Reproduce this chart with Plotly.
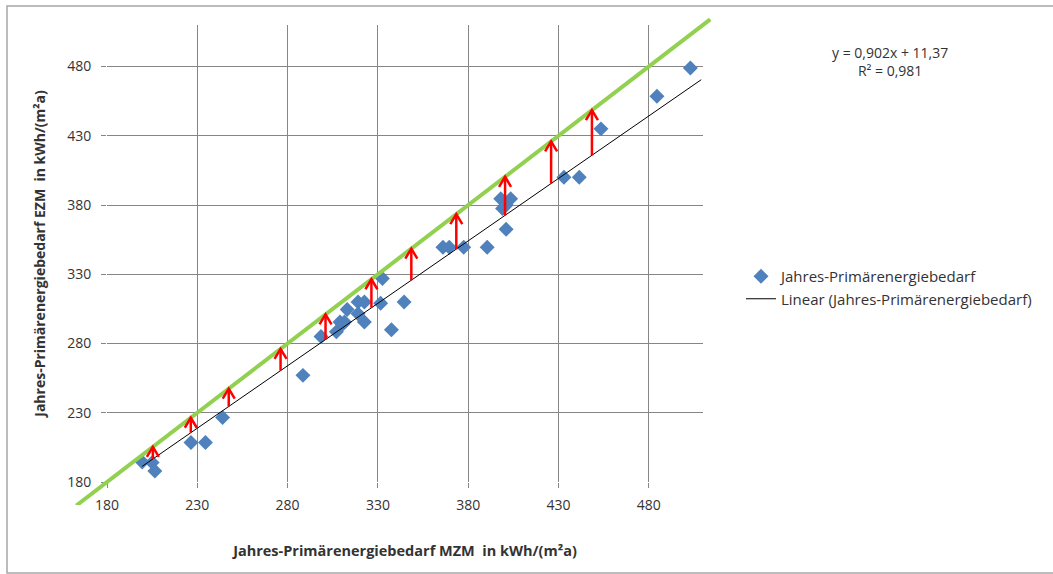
import numpy as np
import plotly.graph_objects as go

# ---------------- data ----------------
x_mzm = [199.5, 205.0, 206.5, 226.5, 234.5, 244.0, 288.5, 298.5, 307.0, 309.0,
         311.5, 310.5, 313.0, 319.0, 322.5, 319.0, 322.5, 331.5, 332.5, 337.5,
         344.5, 366.0, 369.5, 377.5, 390.5, 398.0, 403.5, 399.0, 401.0, 401.0,
         433.0, 441.5, 453.5, 484.5, 503.0]
y_ezm = [194.5, 194.0, 188.0, 208.5, 208.5, 226.5, 257.0, 285.0, 288.5, 295.5,
         295.5, 294.0, 304.5, 310.0, 310.0, 301.5, 295.5, 309.0, 327.0, 290.0,
         310.0, 349.5, 349.5, 349.5, 349.5, 384.5, 384.5, 377.5, 380.0, 362.5,
         400.0, 400.0, 435.0, 458.5, 479.0]
arrow_x = [205.4, 226.4, 247.4, 276.1, 301.0, 326.4, 348.5, 373.4, 400.4, 425.9, 448.5]
SLOPE, INTERCEPT, R2 = 0.902, 11.37, 0.981
tick_vals = [180, 230, 280, 330, 380, 430, 480]
tick_text = ["180", "230", "280", "330", "380", "430", "480"]
X_RANGE = [180, 510]
Y_RANGE = [180, 510]
REF_LINE = [163, 514]   # extent of the y = x reference line

series_name = "Jahres-Primärenergiebedarf"
trend_name = "Linear (Jahres-Primärenergiebedarf)"
x_title = "Jahres-Primärenergiebedarf MZM  in kWh/(m²a)"
y_title = "Jahres-Primärenergiebedarf EZM  in kWh/(m²a)"

# ---------------- layout geometry (pixels) ----------------
W, H = 1053, 574
PLOT = dict(left=107, right=703, top=25, bottom=482)     # main plot area
OUTER = dict(left=74, right=716, top=17, bottom=505)     # area for the overflowing reference line
ow = OUTER["right"] - OUTER["left"]
oh = OUTER["bottom"] - OUTER["top"]
dom_x = [(PLOT["left"] - OUTER["left"]) / ow, (PLOT["right"] - OUTER["left"]) / ow]
dom_y = [(OUTER["bottom"] - PLOT["bottom"]) / oh, (OUTER["bottom"] - PLOT["top"]) / oh]
# extend axis ranges so the second (invisible) axis pair has identical scale
sx = (X_RANGE[1] - X_RANGE[0]) / (dom_x[1] - dom_x[0])
sy = (Y_RANGE[1] - Y_RANGE[0]) / (dom_y[1] - dom_y[0])
x2_range = [X_RANGE[0] - dom_x[0] * sx, X_RANGE[1] + (1 - dom_x[1]) * sx]
y2_range = [Y_RANGE[0] - dom_y[0] * sy, Y_RANGE[1] + (1 - dom_y[1]) * sy]
ppu_x = (PLOT["right"] - PLOT["left"]) / (X_RANGE[1] - X_RANGE[0])   # px per unit
ppu_y = (PLOT["bottom"] - PLOT["top"]) / (Y_RANGE[1] - Y_RANGE[0])


def px_x(p):
    return (p - OUTER["left"]) / ow


def px_y(p):
    return (OUTER["bottom"] - p) / oh


FONT = "Open Sans"
GRID = "#868686"
TXT = "#333333"

fig = go.Figure()

fig.add_trace(go.Scatter(
    x=x_mzm, y=y_ezm, mode="markers", name=series_name,
    marker=dict(symbol="diamond", size=11.5, color="#4F81BD"),
    xaxis="x", yaxis="y"))

tx = np.array([min(x_mzm), X_RANGE[1] - 1])
fig.add_trace(go.Scatter(
    x=tx, y=SLOPE * tx + INTERCEPT, mode="lines", name=trend_name,
    line=dict(color="#000000", width=1), xaxis="x", yaxis="y"))

fig.add_trace(go.Scatter(
    x=REF_LINE, y=REF_LINE, mode="lines", showlegend=False,
    line=dict(color="#92D050", width=4), xaxis="x2", yaxis="y2", hoverinfo="skip"))

# red arrows: from regression line up to the y = x line, with open V heads
HEAD_W, HEAD_H = 6.0, 10.0   # px
ax_x, ax_y = [], []
for a in arrow_x:
    base = SLOPE * a + INTERCEPT
    hw = HEAD_W / ppu_x
    hh = HEAD_H / ppu_y
    ax_x += [a, a, None, a - hw, a, a + hw, None]
    ax_y += [base, a, None, a - hh, a, a - hh, None]
fig.add_trace(go.Scatter(
    x=ax_x, y=ax_y, mode="lines", showlegend=False, hoverinfo="skip",
    line=dict(color="#FF0000", width=2.5), xaxis="x2", yaxis="y2"))

annotations = [dict(
    x=px_x(890), y=px_y(62), xref="paper", yref="paper",
    text="y = 0,902x + 11,37<br>R² = %s" % str(R2).replace(".", ","),
    showarrow=False, align="center", xanchor="center", yanchor="middle",
    font=dict(family=FONT, size=14, color=TXT))]

axis_common = dict(
    tickmode="array", tickvals=tick_vals, ticktext=tick_text,
    showgrid=True, gridcolor=GRID, gridwidth=1,
    ticks="outside", ticklen=5, tickcolor=GRID, tickwidth=1,
    showline=False, zeroline=False, automargin=False,
    tickfont=dict(family=FONT, size=14, color=TXT))

# border on left, top and bottom (right edge lies outside the picture)
bx0, bx1 = px_x(7), px_x(1060)
by0, by1 = px_y(573), px_y(6)
border_path = "M %f,%f L %f,%f L %f,%f L %f,%f" % (bx1, by1, bx0, by1, bx0, by0, bx1, by0)

fig.update_layout(
    width=W, height=H,
    margin=dict(l=OUTER["left"], r=W - OUTER["right"], t=OUTER["top"], b=H - OUTER["bottom"],
                autoexpand=False),
    paper_bgcolor="white", plot_bgcolor="rgba(0,0,0,0)",
    font=dict(family=FONT, size=14, color=TXT),
    xaxis=dict(domain=dom_x, range=X_RANGE, anchor="y",
               title=dict(text="<b>%s</b>" % x_title, standoff=33,
                          font=dict(family=FONT, size=14.5, color=TXT)),
               ticklabelstandoff=5, **axis_common),
    yaxis=dict(domain=dom_y, range=Y_RANGE, anchor="x",
               title=dict(text="<b>%s</b>" % y_title, standoff=18,
                          font=dict(family=FONT, size=14, color=TXT)),
               ticklabelstandoff=7, **axis_common),
    xaxis2=dict(domain=[0, 1], range=x2_range, anchor="y2", visible=False, fixedrange=True),
    yaxis2=dict(domain=[0, 1], range=y2_range, anchor="x2", visible=False, fixedrange=True),
    showlegend=True,
    legend=dict(x=px_x(741), y=px_y(260), xanchor="left", yanchor="top",
                bgcolor="rgba(0,0,0,0)", font=dict(family=FONT, size=15, color=TXT),
                tracegroupgap=0, itemwidth=30),
    annotations=annotations,
    shapes=[dict(type="path", xref="paper", yref="paper", path=border_path,
                 line=dict(color="#A6A6A6", width=1.5), layer="below")],
)

fig.write_html("out.html", config={"displayModeBar": False},
               post_script="document.body.style.margin='0px';"
                           "document.body.style.overflow='hidden';")
